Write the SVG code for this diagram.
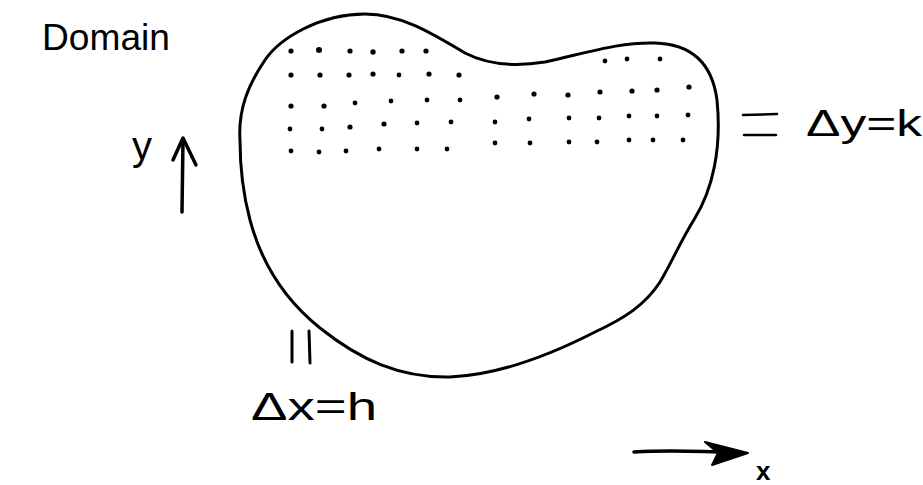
<svg xmlns="http://www.w3.org/2000/svg" width="923" height="485" viewBox="0 0 923 485">
<style>
.lbl{font-family:"Liberation Sans","DejaVu Sans",sans-serif;fill:#000}
.ink{fill:none;stroke:#000;stroke-linecap:round;stroke-linejoin:round}
.dot{fill:#000}
</style>
<rect width="923" height="485" fill="#fff"/>
<g id="domain">
<path class="ink" stroke-width="3" d="M 240,140 C 238,110 248,85 265,60 C 280,38 320,14 365,14 C 400,14 430,32 465,53 C 490,66 520,66 545,62 C 590,52 620,42 655,43 C 690,44 712,62 717,100 C 722,150 712,190 695,218 C 680,242 672,262 660,282 C 645,305 625,318 595,332 C 550,355 500,375 450,377 C 400,378 360,360 320,328 C 285,300 262,265 250,220 C 242,190 240,165 240,140 Z"/>
</g>
<g id="grid-points">
<circle class="dot" cx="291" cy="51" r="2.6"/><circle class="dot" cx="319" cy="50" r="3"/><circle class="dot" cx="350" cy="51" r="2.6"/><circle class="dot" cx="373" cy="52" r="2.7"/><circle class="dot" cx="402" cy="51" r="2.6"/><circle class="dot" cx="426" cy="51" r="2.6"/>
<circle class="dot" cx="605" cy="61" r="2.4"/><circle class="dot" cx="627" cy="59" r="2.4"/><circle class="dot" cx="660" cy="59" r="2.4"/>
<circle class="dot" cx="291" cy="75" r="2.6"/><circle class="dot" cx="320" cy="75" r="2.6"/><circle class="dot" cx="349" cy="75" r="2.6"/><circle class="dot" cx="373" cy="74" r="2.6"/><circle class="dot" cx="399" cy="75" r="2.4"/><circle class="dot" cx="429" cy="74" r="2.6"/><circle class="dot" cx="459" cy="75" r="2.6"/>
<circle class="dot" cx="291" cy="106" r="2.6"/><circle class="dot" cx="324" cy="106" r="2.6"/><circle class="dot" cx="355" cy="103" r="2.4"/><circle class="dot" cx="391" cy="101" r="2.4"/><circle class="dot" cx="427" cy="100" r="2.4"/><circle class="dot" cx="460" cy="100" r="2.4"/>
<circle class="dot" cx="497" cy="97" r="2.6"/><circle class="dot" cx="534" cy="94" r="2.6"/><circle class="dot" cx="568" cy="95" r="2.6"/><circle class="dot" cx="600" cy="92" r="2.6"/><circle class="dot" cx="632" cy="91" r="2.6"/><circle class="dot" cx="657" cy="90" r="2.6"/><circle class="dot" cx="689" cy="87" r="2.6"/>
<circle class="dot" cx="290" cy="129" r="2.4"/><circle class="dot" cx="322" cy="129" r="2.4"/><circle class="dot" cx="350" cy="127" r="2.6"/><circle class="dot" cx="384" cy="124" r="2.6"/><circle class="dot" cx="417" cy="123" r="2.4"/><circle class="dot" cx="451" cy="122" r="2.4"/>
<circle class="dot" cx="495" cy="122" r="2.4"/><circle class="dot" cx="529" cy="119" r="2.4"/><circle class="dot" cx="569" cy="118" r="2.4"/><circle class="dot" cx="599" cy="118" r="2.4"/><circle class="dot" cx="629" cy="116" r="2.4"/><circle class="dot" cx="657" cy="116" r="2.4"/><circle class="dot" cx="688" cy="115" r="2.4"/>
<circle class="dot" cx="291" cy="151" r="2.4"/><circle class="dot" cx="319" cy="152" r="2.4"/><circle class="dot" cx="346" cy="151" r="2.4"/><circle class="dot" cx="379" cy="149" r="2.4"/><circle class="dot" cx="417" cy="149" r="2.4"/><circle class="dot" cx="447" cy="149" r="2.4"/>
<circle class="dot" cx="495" cy="143" r="2.4"/><circle class="dot" cx="530" cy="143" r="2.4"/><circle class="dot" cx="569" cy="142" r="2.4"/><circle class="dot" cx="597" cy="142" r="2.4"/><circle class="dot" cx="629" cy="140" r="2.4"/><circle class="dot" cx="653" cy="140" r="2.4"/><circle class="dot" cx="683" cy="140" r="2.4"/>
</g>
<g id="title">
<text class="lbl" x="42" y="50" font-size="36" textLength="128" lengthAdjust="spacingAndGlyphs">Domain</text>
</g>
<g id="axis-y">
<text class="lbl" x="132" y="160" font-size="40">y</text>
<path class="ink" stroke-width="3.5" d="M 182,212 L 183,139"/>
<path class="ink" stroke-width="3.5" d="M 173,160 L 183,138 L 196,165"/>
</g>
<g id="axis-x">
<path class="ink" stroke-width="3.5" d="M 634,452 C 670,450 700,451 740,453"/>
<path fill="#000" stroke="#000" stroke-width="2" stroke-linejoin="round" d="M 705,442 L 748,453 L 712,465 L 718,453 Z"/>
<text class="lbl" x="756" y="480" font-size="26" font-weight="bold">x</text>
</g>
<g id="spacing-y">
<path class="ink" stroke-width="2.5" d="M 743,115 L 777,114 M 744,135 L 776,135"/>
<text class="lbl" x="806" y="136" font-size="36" textLength="116" lengthAdjust="spacingAndGlyphs">Δy=k</text>
</g>
<g id="spacing-x">
<path class="ink" stroke-width="3" d="M 292,331 L 292,362 M 309,331 L 310,363"/>
<text class="lbl" x="251" y="420" font-size="38" textLength="126" lengthAdjust="spacingAndGlyphs">Δx=h</text>
</g>
</svg>
